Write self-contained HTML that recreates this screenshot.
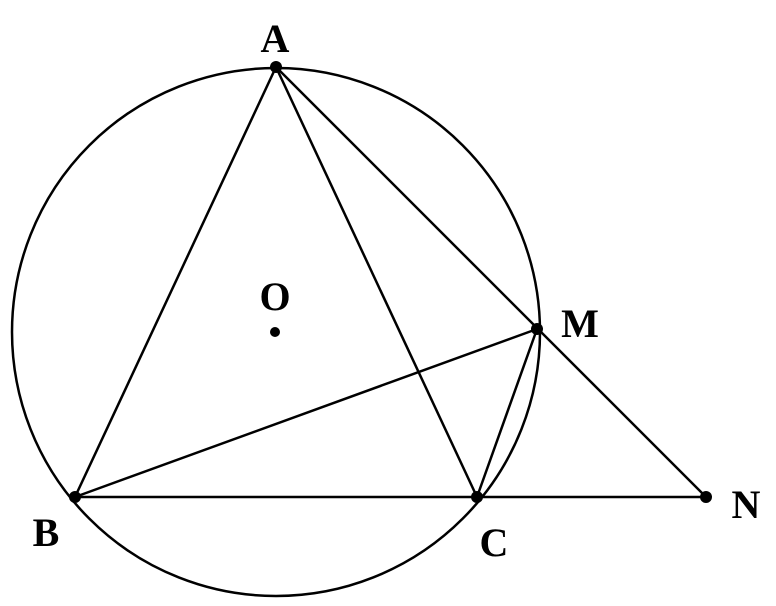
<!DOCTYPE html>
<html><head><meta charset="utf-8"><style>html,body{margin:0;padding:0;background:#fff;width:776px;height:606px;overflow:hidden}</style></head>
<body>
<svg width="776" height="606" viewBox="0 0 776 606" xmlns="http://www.w3.org/2000/svg">
<g fill="none" stroke="#000" stroke-width="2.5">
<circle cx="276" cy="332" r="264"/>
<line x1="276" y1="67" x2="75" y2="497"/>
<line x1="276" y1="67" x2="477" y2="497"/>
<line x1="276" y1="67" x2="706" y2="497"/>
<line x1="75" y1="497" x2="706" y2="497"/>
<line x1="75" y1="497" x2="537" y2="329"/>
<line x1="537" y1="329" x2="477" y2="497"/>
</g>
<g fill="#000">
<circle cx="276" cy="67" r="6"/>
<circle cx="275" cy="332" r="5"/>
<circle cx="537" cy="329" r="6"/>
<circle cx="75" cy="497" r="6"/>
<circle cx="477" cy="497" r="6"/>
<circle cx="706" cy="497" r="6"/>
</g>
<g font-family="Liberation Serif, serif" font-weight="bold" font-size="40" fill="#000" text-anchor="middle">
<text x="275" y="52">A</text>
<text x="275" y="310">O</text>
<text x="580" y="337">M</text>
<text x="46" y="546">B</text>
<text x="494" y="556">C</text>
<text x="746" y="518">N</text>
</g>
</svg>
</body></html>
